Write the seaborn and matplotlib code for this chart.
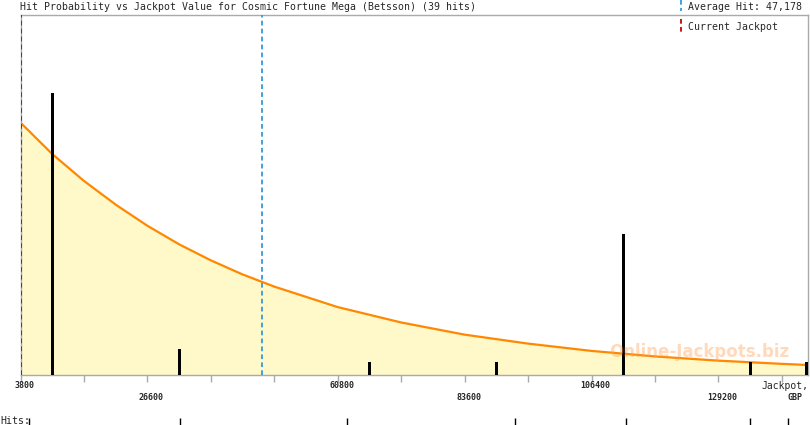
import matplotlib
matplotlib.use("Agg")
import matplotlib.pyplot as plt
import seaborn as sns
import pandas as pd

# bins of 11400 GBP starting at 3800
bar_jackpot = [9500, 32300, 66500, 89300, 112100, 134900, 145000]
bar_hits = [22, 2, 1, 1, 11, 1, 1]

# fitted probability curve (in hit units)
curve_jackpot = [3800, 9500, 15200, 20900, 26600, 32300, 38000, 43700, 49400,
                 60800, 72200, 83600, 95000, 106400, 117800, 129200, 140600, 145300]
curve_value = [19.7, 17.25, 15.15, 13.3, 11.65, 10.2, 8.95, 7.85, 6.9,
               5.3, 4.1, 3.15, 2.45, 1.88, 1.45, 1.12, 0.87, 0.78]

hit_marks = [5290, 32460, 62470, 92650, 112600, 134900, 141700]

tick_values = [3800 + 11400 * i for i in range(13)]
label_values = [3800, 26600, 60800, 83600, 106400, 129200]

average_hit = 47178
current_jackpot = 3800

sns.set_style("white")
plt.rcParams['font.family'] = ['DejaVu Sans Mono', 'DejaVu Sans']

fig = plt.figure(figsize=(8.1, 4.25), dpi=100)
ax = fig.add_axes([20.5 / 810, 50 / 425, 787.5 / 810, 360 / 425])

curve = pd.DataFrame({'jackpot': curve_jackpot, 'value': curve_value})
ax.fill_between(curve['jackpot'], curve['value'], color='#FFF8C8', lw=0, zorder=1)
sns.lineplot(data=curve, x='jackpot', y='value', color='#FF8800', lw=1.6, ax=ax, zorder=3)

ax.bar(bar_jackpot, bar_hits, width=560, color='black', edgecolor='none',
       linewidth=0, zorder=4)

dash = (0, (2.6, 1.8))
ax.axvline(average_hit, color='#3399DD', lw=1.3, ls=dash, zorder=5)
ax.axvline(current_jackpot + 150, color='#CC0000', lw=1.3, ls=dash, zorder=5)

ax.set_xlim(3800, 145300)
ax.set_ylim(0, 28.1)
ax.set_xticks(tick_values)
ax.set_xticklabels([])
ax.set_yticks([])
ax.set_xlabel('')
ax.set_ylabel('')
ax.tick_params(axis='x', bottom=True, length=5, width=1, color='#AAAAAA')
for s in ax.spines.values():
    s.set_color('#AAAAAA')
    s.set_linewidth(1)

trans = ax.get_xaxis_transform()
for i, v in enumerate(label_values):
    row = -10 / 360 if i % 2 == 0 else -23 / 360
    ax.annotate(str(v), xy=(v, row), xycoords=trans, xytext=(4, 0),
                textcoords='offset pixels', ha='center', va='center',
                fontsize=6, fontweight='bold')
ax.text(145300, -11 / 360, 'Jackpot,', transform=trans, ha='right',
        va='center', fontsize=7)
ax.text(143000, -23 / 360, 'GBP', transform=trans, ha='center',
        va='center', fontsize=6, fontweight='bold')

# hits rug under the axis
ax.vlines(hit_marks, -(418 - 375) / 360, -(426 - 375) / 360, transform=trans,
          color='black', lw=1, clip_on=False)
fig.text(0 / 810, 1 - 421 / 425, 'Hits:', ha='left', va='center', fontsize=7.2)

ax.text(0.862, 0.065, 'Online-Jackpots.biz', transform=ax.transAxes,
        ha='center', va='center', fontsize=12, fontweight='bold',
        family='DejaVu Sans', color='#FFA050', alpha=0.4, zorder=6)

# header
fig.text(20 / 810, 1 - 7 / 425,
         'Hit Probability vs Jackpot Value for Cosmic Fortune Mega (Betsson) (39 hits)',
         ha='left', va='center', fontsize=7.15)
fig.text(688 / 810, 1 - 7 / 425, 'Average Hit: 47,178', ha='left',
         va='center', fontsize=7.15)
fig.text(688 / 810, 1 - 27 / 425, 'Current Jackpot', ha='left',
         va='center', fontsize=7.15)
fig.add_artist(plt.Line2D([680.5 / 810, 680.5 / 810], [1, 1 - 11 / 425],
                          color='#3399DD', lw=1.3, ls=dash))
fig.add_artist(plt.Line2D([680.5 / 810, 680.5 / 810], [1 - 19 / 425, 1 - 33 / 425],
                          color='#CC0000', lw=1.3, ls=dash))

fig.savefig('out.png', dpi=100)
